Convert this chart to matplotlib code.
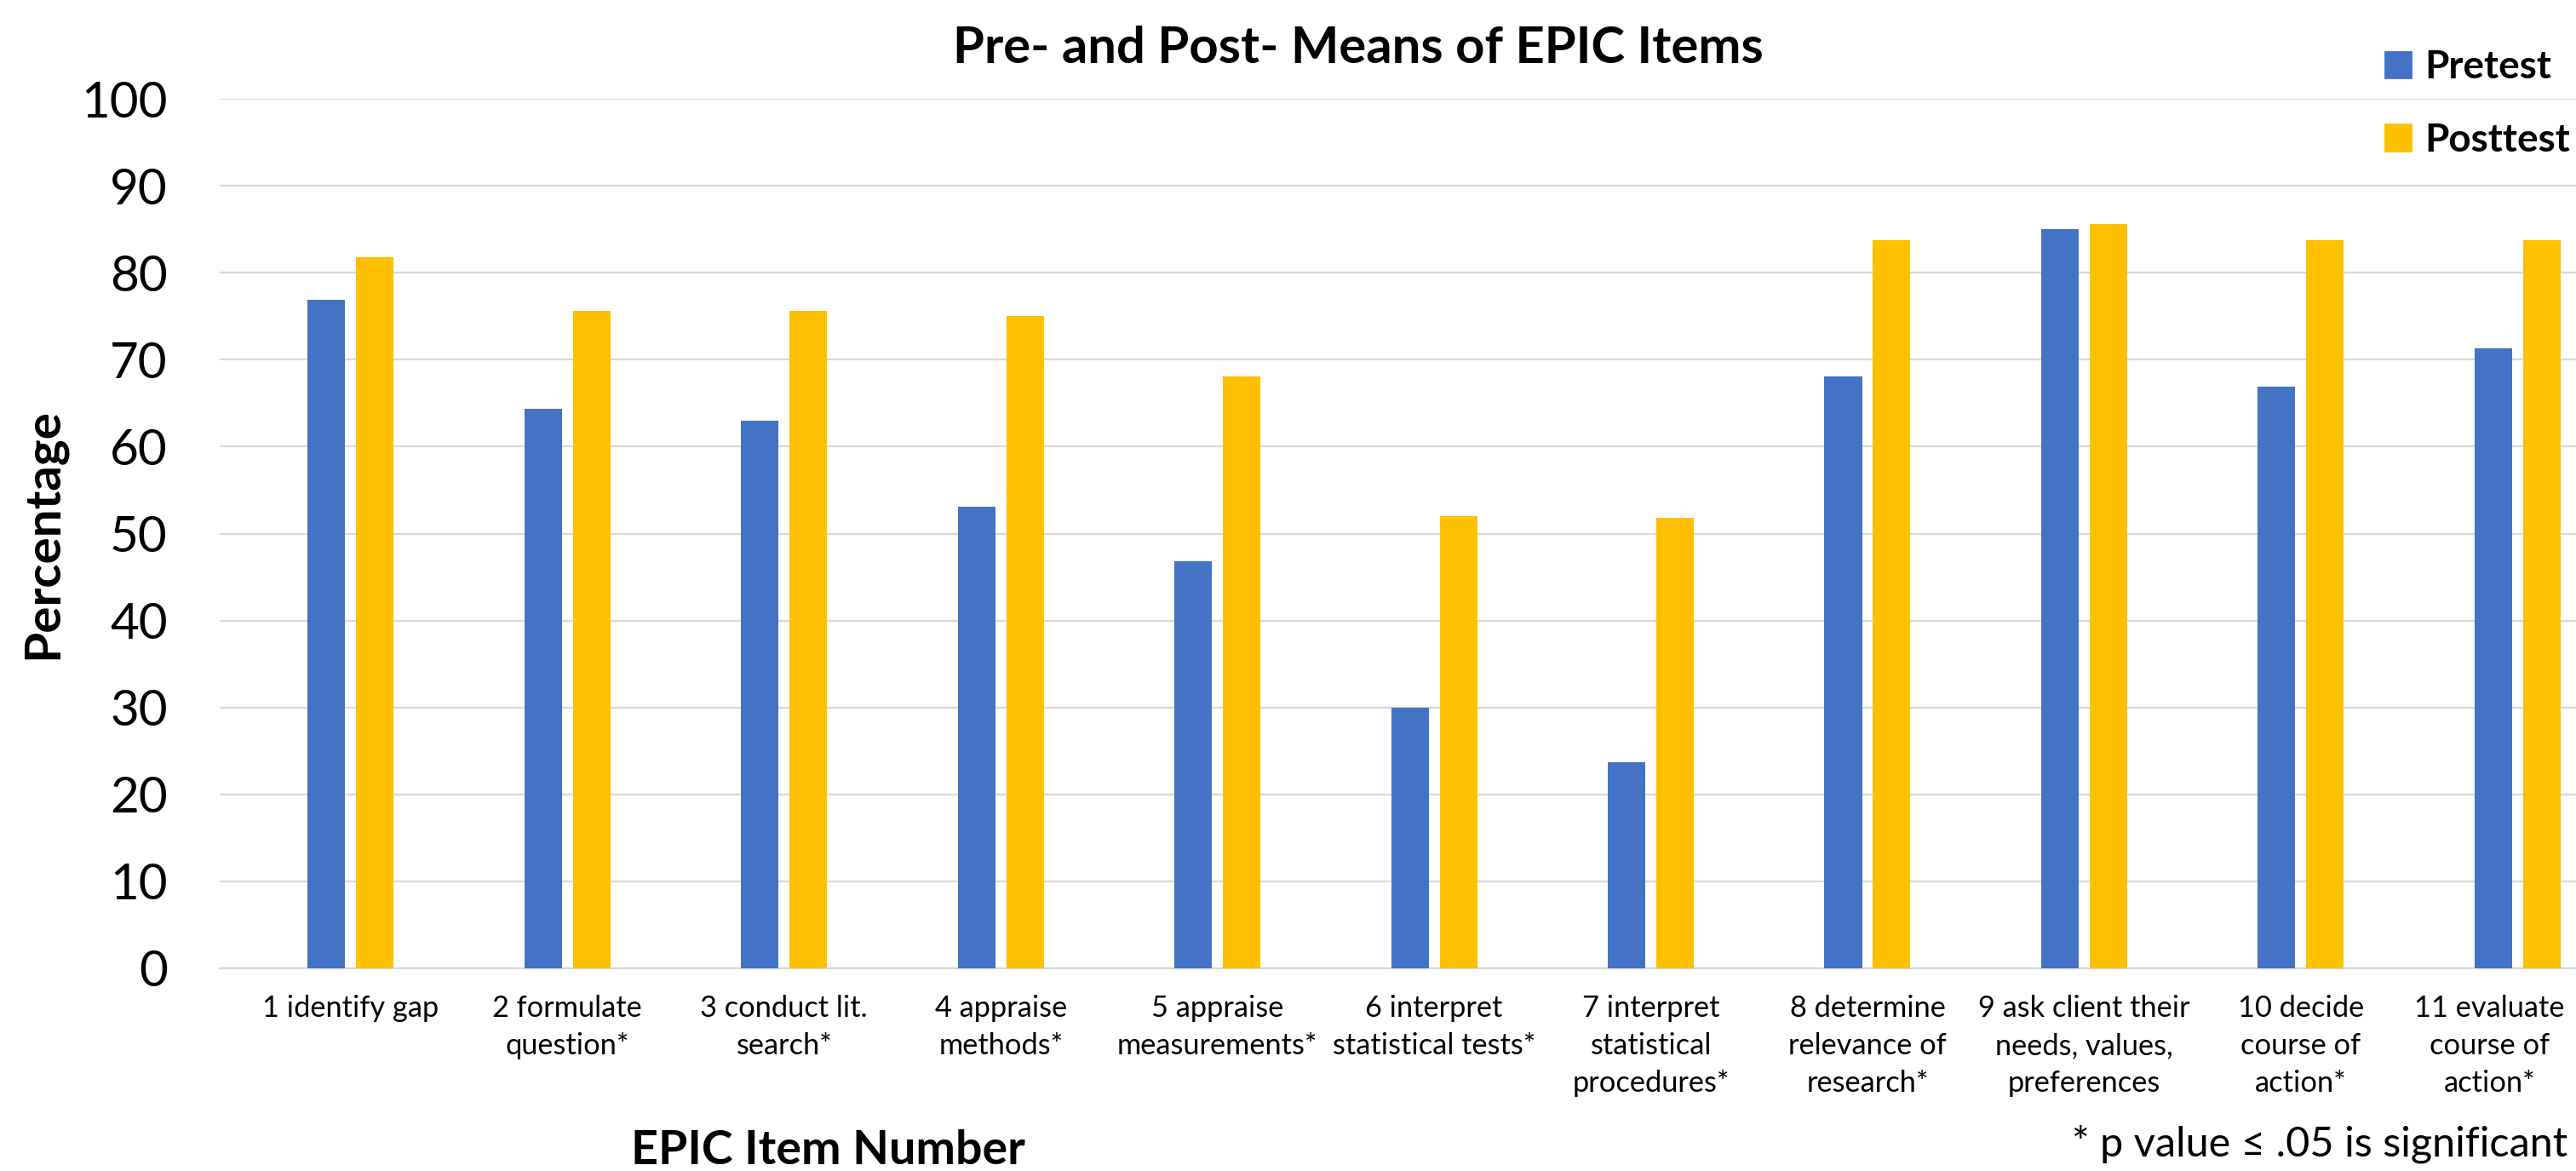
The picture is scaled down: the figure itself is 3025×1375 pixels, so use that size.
import numpy as np
import matplotlib
matplotlib.use('Agg')
import matplotlib.pyplot as plt
from matplotlib.patches import Patch

plt.rcParams['font.family'] = ['Lato', 'DejaVu Sans']

# data
items = ['1 identify gap', '2 formulate\nquestion*', '3 conduct lit.\nsearch*',
         '4 appraise\nmethods*', '5 appraise\nmeasurements*',
         '6 interpret\nstatistical tests*', '7 interpret\nstatistical\nprocedures*',
         '8 determine\nrelevance of\nresearch*', '9 ask client their\nneeds, values,\npreferences',
         '10 decide\ncourse of\naction*', '11 evaluate\ncourse of\naction*']
pretest = [76.9, 64.3, 63.0, 53.1, 46.8, 30.0, 23.7, 68.1, 85.0, 66.9, 71.3]
posttest = [81.8, 75.6, 75.6, 75.0, 68.1, 52.0, 51.8, 83.7, 85.6, 83.7, 83.7]
yticks = [0, 10, 20, 30, 40, 50, 60, 70, 80, 90, 100]

blue = '#4472C4'
gold = '#FFC000'
grid = '#D9D9D9'

fig = plt.figure(figsize=(15.125, 6.875), dpi=200)
ax = fig.add_axes([258 / 3025, 1 - 1137 / 1375, 1 - 258 / 3025, (1137 - 116) / 1375])

x = np.arange(len(items))
w = 0.173
ax.bar(x - 0.112, pretest, w, color=blue, zorder=3)
ax.bar(x + 0.112, posttest, w, color=gold, zorder=3)

ax.set_xlim(-0.605, 10.27)
ax.set_ylim(0, 100)
ax.set_yticks(yticks)
ax.set_yticklabels([str(v) for v in yticks], fontsize=21)

# last label is pushed left a bit so it stays inside the figure, like in Excel
label_pos = x.astype(float)
label_pos[-1] -= 0.13
ax.set_xticks(label_pos)
ax.set_xticklabels(items, fontsize=12.4, linespacing=1.47)
ax.tick_params(axis='both', length=0)
ax.tick_params(axis='y', pad=22)
ax.tick_params(axis='x', pad=11)
ax.yaxis.grid(True, color=grid, linewidth=0.8, zorder=0)
for s in ['top', 'right', 'left']:
    ax.spines[s].set_visible(False)
ax.spines['bottom'].set_color(grid)
ax.spines['bottom'].set_linewidth(0.8)

ax.set_ylabel('Percentage', fontsize=21, fontweight='bold')
ax.yaxis.set_label_coords(-0.0655, 0.5)

fig.text(1595 / 3025, 1 - 57 / 1375, 'Pre- and Post- Means of EPIC Items',
         fontsize=21.5, fontweight='bold', ha='center', va='center')
fig.text(972 / 3025, 1 - 1367 / 1375, 'EPIC Item Number',
         fontsize=20, fontweight='bold', ha='center', va='baseline')
fig.text(3015 / 3025, 1 - 1357 / 1375, '* p value \u2264 .05 is significant',
         fontsize=17.5, ha='right', va='baseline')

handles = [Patch(color=blue, label='Pretest'), Patch(color=gold, label='Posttest')]
prop = {'size': 16.5, 'weight': 'bold'}
fig.legend(handles=handles, loc='upper left', bbox_to_anchor=(2801 / 3025, 1 - 58 / 1375),
           frameon=False, prop=prop, handlelength=0.65, handleheight=0.65,
           handletextpad=0.35, labelspacing=0.95, borderpad=0, borderaxespad=0)

fig.savefig('out.png', dpi=200)
